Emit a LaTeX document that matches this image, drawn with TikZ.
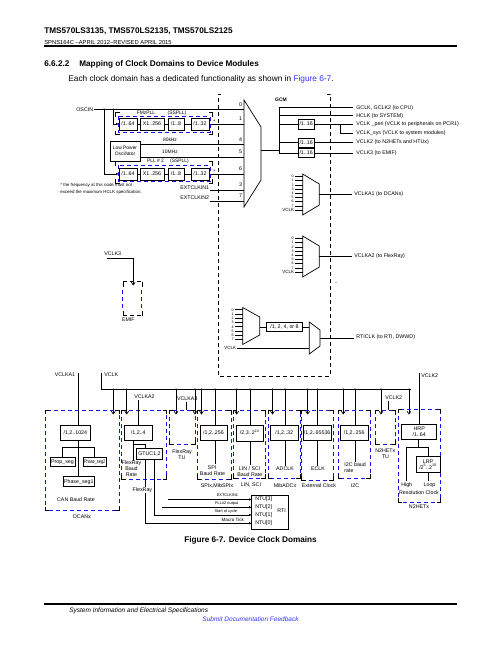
\documentclass[tikz,border=0pt]{standalone}
\usepackage{fontspec}
\usepackage{graphicx}
\setmainfont{Liberation Sans}
\usetikzlibrary{arrows.meta}
\definecolor{lnk}{RGB}{51,51,255}
\definecolor{dblue}{RGB}{20,20,235}
\newcommand\mybx[7][]{\node[dv,#1,minimum width={(#5-#3)*1pt},minimum height={(#6-#4)*1pt}] (#2) at ({(#3+#5)/2},{(#4+#6)/2}) {#7};}
\newcommand\mycrn[4]{%
  \draw ({#1},{#2+4}) -- ({#1},{#2}) -- ({#1+4},{#2});
  \draw ({#3-4},{#2}) -- ({#3},{#2}) -- ({#3},{#2+4});
  \draw ({#1},{#4-4}) -- ({#1},{#4}) -- ({#1+4},{#4});
  \draw ({#3-4},{#4}) -- ({#3},{#4}) -- ({#3},{#4-4});}
\newcommand\mymbx[4]{\draw[bd] (#1,#2) rectangle (#3,#4); \mycrn{#1}{#2}{#3}{#4}}
\begin{document}
\begin{tikzpicture}[x=1pt,y=-1pt,line width=0.7pt,
  lb/.style={font=\fontsize{5.3}{6}\selectfont,inner sep=0pt},
  ls/.style={font=\fontsize{4.4}{5}\selectfont,inner sep=0pt},
  lt/.style={font=\fontsize{3.6}{4}\selectfont,inner sep=0pt},
  lr/.style={font=\fontsize{3.9}{4.5}\selectfont,inner sep=0pt},
  dv/.style={draw,line width=0.7pt,inner sep=0pt,font=\fontsize{5.3}{6}\selectfont,align=center},
  bd/.style={draw=dblue,dash pattern=on 4pt off 3pt,line width=0.7pt},
  kd/.style={draw=black,dash pattern=on 4pt off 3pt,line width=0.7pt},
  vt/.style={-{Straight Barb[length=2.6pt,width=3.8pt]}},
  ar/.style={-{Latex[length=2.6pt,width=2.6pt]}},
  jd/.style={circle,fill,inner sep=0pt,minimum size=1.7pt}]
\useasboundingbox (0,0) rectangle (502,649);
% ---------------- header ----------------
\node[anchor=west,inner sep=0,font=\bfseries\fontsize{8.2}{9}\selectfont] (ttl) at (44,31) {TMS570LS3135, TMS570LS2135, TMS570LS2125};
\node[anchor=west,inner sep=0,font=\fontsize{5.8}{6.5}\selectfont] (spn) at (44,42) {SPNS164C \textendash APRIL 2012\textendash REVISED APRIL 2015};
\draw[line width=1.7pt] (44,45.7) -- (457,45.7);
\node[anchor=west,inner sep=0,font=\bfseries\fontsize{8.2}{9}\selectfont] (secn) at (44,64) {6.6.2.2};
\node[anchor=west,inner sep=0,font=\bfseries\fontsize{8.2}{9}\selectfont] (sect) at (79,64) {Mapping of Clock Domains to Device Modules};
\node[anchor=west,inner sep=0,font=\fontsize{8.3}{9}\selectfont] (body) at (68,79) {Each clock domain has a dedicated functionality as shown in \textcolor{lnk}{Figure 6-7}.};
% ---------------- footer ----------------
\draw[line width=1.7pt] (44,604) -- (457,604);
\node[anchor=west,inner sep=0,font=\itshape\fontsize{6.5}{7}\selectfont] (ft1) at (69,610.5) {System Information and Electrical Specifications};
\node[inner sep=0,font=\itshape\fontsize{6.5}{7}\selectfont,text=lnk] (ft2) at (250.5,619) {Submit Documentation Feedback};
\node[inner sep=0,font=\bfseries\fontsize{8.2}{9}\selectfont] (cap) at (250.5,540) {Figure 6-7. Device Clock Domains};
% ---------------- clock sources ----------------
\node[lb,anchor=east] (osc) at (93.5,109.3) {OSCIN};
\draw (osc.east) -- (244,109.3);
\node[jd] (j1) at (104,109.3) {};
\node[jd] (j2) at (113.3,109.3) {};
\mybx{p1a}{119}{118}{137}{130}{/1..64}
\mybx{p1b}{140}{118}{164}{130}{X1..256}
\mybx{p1c}{168}{118}{184}{130}{/1..8}
\mybx{p1d}{191}{118}{209}{130}{/1..32}
\draw[ar] (j2.center) |- (p1a.west);
\draw (p1a) -- (p1b); \draw (p1b) -- (p1c); \draw (p1c) -- (p1d);
\draw (p1d.east) -- (244,124);
\draw[bd] (118,116.3) rectangle (210,132);
\mycrn{115.5}{112.7}{212.5}{134.5}
\node[lb,font=\fontsize{4.9}{5.5}\selectfont] (fmz) at (146,112.8) {FMzPLL};
\node[lb,font=\fontsize{4.9}{5.5}\selectfont] (ss1) at (177,112.8) {(SSPLL)};
\node[lb] (st1) at (214.5,121.5) {*};
\mybx[font=\fontsize{4.9}{5.6}\selectfont]{lpo}{110}{141}{140}{161}{Low Power\\Oscillator}
\draw (140,144.7) -- (244,144.7);
\draw (140,157) -- (244,157);
\node[lb,font=\fontsize{4.9}{5.5}\selectfont] (k80) at (170,140) {80kHz};
\node[lb,font=\fontsize{4.9}{5.5}\selectfont] (m10) at (170,151.7) {10MHz};
\mybx{p2a}{119}{168}{137}{180}{/1..64}
\mybx{p2b}{140}{168}{164}{180}{X1..256}
\mybx{p2c}{168}{168}{184}{180}{/1..8}
\mybx{p2d}{191}{168}{209}{180}{/1..32}
\draw[ar] (j1.center) |- (p2a.west);
\draw (p2a) -- (p2b); \draw (p2b) -- (p2c); \draw (p2c) -- (p2d);
\draw (p2d.east) -- (244,174);
\draw[bd] (118,165.3) rectangle (210,181.5);
\mycrn{115.5}{161.8}{212.5}{183.3}
\node[lb,font=\fontsize{4.9}{5.5}\selectfont] (pl2) at (155.5,161) {PLL \# 2};
\node[lb,font=\fontsize{4.9}{5.5}\selectfont] (ss2) at (179.5,161) {(SSPLL)};
\node[lb] (st2) at (214.5,171.5) {*};
\node[lb,anchor=east] (e1) at (209.5,187.5) {EXTCLKIN1};
\draw (209.5,190) -- (244,190);
\node[lb,anchor=east] (e2) at (209.5,197.8) {EXTCLKIN2};
\draw (209.5,201) -- (244,201);
\node[ls,anchor=west] (fn1) at (60,185.8) {* the frequency at this node must not};
\node[ls,anchor=west] (fn2) at (60,192) {exceed the maximum HCLK specification.};
% main mux
\draw (244,100) -- (261,127) -- (261,180) -- (244,207) -- cycle;
\foreach \t/\yy in {0/109.3,1/124,4/144.7,5/157,6/174,3/190,7/201} \node[lb] at (240.5,\yy-5) {\t};
\draw (261,150.3) -- (279,150.3);
% ---------------- GCM ----------------
\draw[kd] (221,94) -- (218,94) -- (218,376) -- (330,376) -- (330,94) -- (327,94);
\node[font=\bfseries\fontsize{5}{6}\selectfont,inner sep=0] (gcm) at (281,100) {GCM};
\draw (279,107.7) -- (279,153);
\draw (279,107.7) -- (353.3,107.7);
\node[lb,anchor=west] (o1) at (356,107.7) {GCLK, GCLK2 (to CPU)};
\draw (279,115.7) -- (353.3,115.7);
\node[lb,anchor=west] (o2) at (356,115.7) {HCLK (to SYSTEM)};
\mybx{g1}{298.3}{119}{314}{129}{/1..16}
\draw (279,124) -- (g1.west); \draw (g1.east) -- (353.3,124);
\node[lb,anchor=west] (o3) at (356,124) {VCLK \_peri (VCLK to peripherals on PCR1)};
\draw (340,124) -- (340,133.5) -- (353.3,133.5);
\node[lb,anchor=west] (o4) at (356,133.5) {VCLK\_sys (VCLK to system modules)};
\mybx{g2}{298.3}{138}{314}{147}{/1..16}
\draw (279,142.5) -- (g2.west); \draw (g2.east) -- (353.3,142.5);
\node[lb,anchor=west] (o5) at (356,142.5) {VCLK2 (to N2HETs and HTUx)};
\mybx{g3}{298.3}{148.5}{314}{157.5}{/1..16}
\draw (279,153) -- (g3.west); \draw (g3.east) -- (353.3,153);
\node[lb,anchor=west] (o6) at (356,153) {VCLK3 (to EMIF)};
% VCLKA muxes
\foreach \oy/\lab in {0/VCLKA1 (to DCANs),62/VCLKA2 (to FlexRay)} {
  \draw (302.7,174+\oy) -- (319.3,184+\oy) -- (319.3,205+\oy) -- (302.7,215+\oy) -- cycle;
  \foreach \i in {0,...,7} {
    \draw (295,176.5+\oy+\i*4.2) -- (302.7,176.5+\oy+\i*4.2);
    \node[lt,anchor=east] at (294,176.5+\oy+\i*4.2) {\i};
  }
  \draw (295,210.1+\oy) -- (302.7,210.1+\oy);
  \node[font=\fontsize{4.5}{5}\selectfont,inner sep=0,anchor=east] at (294.5,210.1+\oy) {VCLK};
  \draw (319.3,194.5+\oy) -- (351.7,194.5+\oy);
  \node[lb,anchor=west] at (354,194.5+\oy) {\lab};
}
\fill (336,282.3) circle (0.45);
% RTI clock
\draw (242.7,307.5) -- (259.7,317) -- (259.7,335) -- (242.7,344.5) -- cycle;
\foreach \i in {0,...,7} {
  \draw (235,309.8+\i*4.25) -- (242.7,309.8+\i*4.25);
  \node[lt,anchor=east] at (234,309.8+\i*4.25) {\i};
}
\mybx{rdiv}{266.7}{322.5}{302.3}{331.5}{/1, 2, 4, or 8}
\draw (259.7,327) -- (rdiv.west);
\draw (rdiv.east) -- (309.3,327);
\draw (309.3,322) -- (320,330) -- (320,346) -- (309.3,354) -- cycle;
\node[font=\fontsize{4.5}{5}\selectfont,inner sep=0,anchor=east] (rv) at (236.5,347.5) {VCLK};
\draw (237,348) -- (309.3,348);
\draw (320,338) -- (354,338);
\node[lb,anchor=west] (rtic) at (356,337.5) {RTICLK (to RTI, DWWD)};
% ---------------- EMIF ----------------
\node[lb,anchor=west] (v3) at (104,253.3) {VCLK3};
\draw[vt] (106.7,258.3) -- (133.3,258.3) -- (133.3,285.5);
\draw[kd] (123.3,281.7) -- (142.3,281.7);
\draw[kd] (123.3,315.7) -- (142.3,315.7);
\draw (123.3,281.7) -- (123.3,287); \draw (142.3,281.7) -- (142.3,287);
\draw (123.3,310.5) -- (123.3,315.7); \draw (142.3,310.5) -- (142.3,315.7);
\draw[bd] (122.7,290) -- (122.7,308); \draw[bd] (141.5,290) -- (141.5,308);
\node[lb,anchor=west] (emif) at (121.7,320) {EMIF};
% ---------------- peripheral clocks ----------------
\node[lb,anchor=east] (va1) at (75.5,375) {VCLKA1};
\draw (78.3,373) -- (78.3,425);
\node[lb,anchor=west] (vc) at (104,375) {VCLK};
\draw (101.7,373) -- (101.7,389.3) -- (411,389.3);
\foreach \x [count=\k] in {113.3,126.7,176,195,201.5,236.7,272.5,307.7,343.3,381,409} {
  \node[jd] (tv\k) at (\x,389.3) {};
  \draw[vt] (\x,389.3) -- (\x,414.5);
}
\foreach \x [count=\k] in {215,250,285,317.7,355} {
  \node[jd] (td\k) at (\x,389.3) {};
  \draw (\x,389.3) -- (\x,425);
}
\mymbx{45}{410}{119}{510.7}
\mymbx{121.7}{410}{166.7}{479.3}
\mymbx{169.3}{410}{195}{444}
\mymbx{197}{410}{231}{479.3}
\mymbx{233.3}{410}{265}{478.3}
\mymbx{268.3}{410}{300}{478.3}
\mymbx{301.7}{410}{333.3}{480}
\mymbx{338.3}{410}{370}{478.3}
\mymbx{375}{410}{395.7}{444}
\mymbx{398.3}{409}{440.7}{502.3}
% DCAN
\mybx{cdiv}{60}{425}{90.7}{440}{/1,2..1024}
\draw (78.3,440) -- (78.3,476.7);
\draw (62.3,457.3) -- (62.3,447.3) -- (94.3,447.3) -- (94.3,457.3);
\mybx{prop}{50}{457.3}{75}{466.7}{Prop\_seg}
\mybx{ph2}{83.3}{457.3}{106}{466.7}{\scalebox{0.72}[1]{Phase\_seg2}}
\mybx{ph1}{63.3}{476.7}{94.3}{486.7}{Phase\_seg1}
\node[lb] (canb) at (76,500) {CAN Baud Rate};
\node[lb] (dcan) at (82,517) {DCANx};
% FlexRay
\node[lb,anchor=west] (va2) at (134,396.7) {VCLKA2};
\draw (138.3,399.5) -- (138.3,425.7);
\mybx{fdiv}{124.3}{425.7}{152.3}{440}{/1,2..4}
\draw (133.3,440) -- (133.3,460.5);
\draw (133.3,444) -- (145,444) -- (145,448.3);
\mybx{gtu}{136.7}{448.3}{162.3}{459.3}{GTUC1,2}
\node[lb,align=center,font=\fontsize{5.3}{5.8}\selectfont] (fbr) at (131.5,468.5) {FlexRay\\Baud\\Rate};
\node[lb,align=center] (ftu) at (182,454.7) {FlexRay\\TU};
\node[lb] (va3) at (187.3,399) {VCLKA3};
\draw (186.7,402) -- (186.7,410);
% RTI
\mybx{rti}{251.7}{495}{288.3}{529}{}
\node[lb] (rtil) at (281.7,511) {RTI};
\foreach \n/\yy in {3/499.5,2/507.3,1/515,0/523.3} \node[lb,anchor=west] (ntu\n) at (255,\yy) {NTU[\n]};
\draw[ar] (145,459.3) -- (145,523.3) -- (251.7,523.3);
\draw[ar] (154,459.3) -- (154,515) -- (251.7,515);
\draw[ar] (161.7,507.3) -- (251.7,507.3);
\draw[ar] (168.3,499.5) -- (251.7,499.5);
\node[lb,fill=white,inner sep=0.4pt] (frl) at (142.4,490) {FlexRay};
\node[lr] (l1) at (227.5,495.3) {EXTCLKIN1};
\node[lr] (l2) at (226.7,503.5) {PLL\#2 output};
\node[lr] (l3) at (225.8,511.2) {Start of cycle};
\node[font=\fontsize{4.6}{5}\selectfont,inner sep=0] (l4) at (232.8,519.4) {Macro Tick};
% SPI
\mybx{sdiv}{200}{425}{227}{440}{/1,2..256}
\draw (215,440) -- (215,464);
\node[lb] (spi1) at (212,467.3) {SPI};
\node[lb] (spi2) at (212.5,473.3) {Baud Rate};
\node[lb] (spi3) at (217,485.7) {SPIx,MibSPIx};
% LIN
\mybx{ldiv}{236}{425}{263.3}{441}{/2,3..2\textsuperscript{24}}
\draw (250,441) -- (250,465);
\node[lb] (lin1) at (249.7,468.3) {LIN / SCI};
\node[lb] (lin2) at (249.8,474.2) {Baud Rate};
\node[lb] (lin3) at (251,485.3) {LIN, SCI};
% MibADC
\mybx{mdiv}{270}{425}{298.3}{440}{/1,2..32}
\draw (285,440) -- (285,465.5);
\node[lb] (adc1) at (285,468.5) {ADCLK};
\node[lb] (adc2) at (285,486) {MibADCx};
% ECLK
\mybx{ediv}{303.3}{425}{331}{440}{/1,2..65536}
\draw (317.7,440) -- (317.7,465.5);
\node[lb] (ecl1) at (318,468.5) {ECLK};
\node[lb] (ecl2) at (319,485.3) {External Clock};
% I2C
\mybx{idiv}{340}{425}{368.3}{440}{/1,2..256}
\draw (355,440) -- (355,461.5);
\node[lb,anchor=west] (i2c1) at (344,465) {I2C baud};
\node[lb,anchor=west] (i2c2) at (344,471) {rate};
\node[lb] (i2c3) at (355,485.3) {I2C};
% N2HET TU
\node[lb,anchor=west] (vk2b) at (385,397.7) {VCLK2};
\draw (388.3,400.5) -- (388.3,410);
\node[lb,align=center] (ntu) at (385.3,453.3) {N2HETx\\TU};
% N2HET
\node[lb,anchor=west] (vk2) at (421,375.7) {VCLK2};
\draw (419.3,373) -- (419.3,424.3);
\mybx[font=\fontsize{5.3}{5.6}\selectfont]{hrp}{401.7}{424.3}{436.7}{439.3}{HRP\\/1..64}
\draw (418.3,439.3) -- (418.3,447.3);
\node[jd] (jh) at (418.3,447.3) {};
\draw (406.7,481) -- (406.7,447.3) -- (428.3,447.3) -- (428.3,456.7);
\mybx[font=\fontsize{5.3}{5.4}\selectfont]{lrp}{416}{456.7}{440}{472.3}{LRP\\/2\textsuperscript{5}..2\textsuperscript{10}}
\draw (428.3,472.3) -- (428.3,481);
\node[lb] (hi) at (406.7,485.5) {High};
\node[lb] (lo) at (429.5,485.5) {Loop};
\node[lb] (rc) at (419,492.3) {Resolution Clock};
\node[lb] (n2h) at (419,507) {N2HETx};
\end{tikzpicture}
\end{document}
